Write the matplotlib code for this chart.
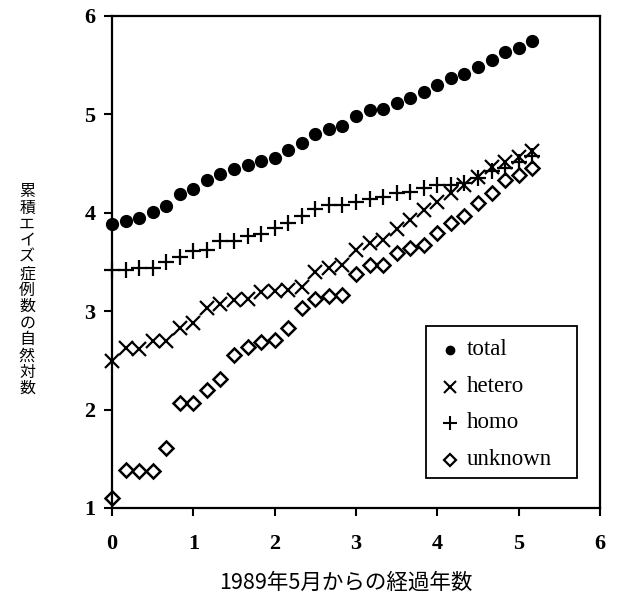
import numpy as np
import matplotlib
matplotlib.use("Agg")
import matplotlib.pyplot as plt
from matplotlib.lines import Line2D
from matplotlib.patches import Rectangle

# months elapsed since May 1989 (bi-monthly reports)
months = [0, 2, 4, 6, 8, 10, 12, 14, 16, 18, 20, 22, 24, 26, 28, 30,
          32, 34, 36, 38, 40, 42, 44, 46, 48, 50, 52, 54, 56, 58, 60, 62]

total = [3.89, 3.92, 3.95, 4.01, 4.07, 4.19, 4.24, 4.33, 4.39, 4.44, 4.49, 4.53,
         4.56, 4.64, 4.71, 4.80, 4.85, 4.88, 4.98, 5.04, 5.05, 5.12, 5.17, 5.23,
         5.30, 5.37, 5.41, 5.48, 5.55, 5.63, 5.67, 5.75]
hetero = [2.49, 2.63, 2.62, 2.70, 2.70, 2.83, 2.88, 3.03, 3.07, 3.11, 3.12, 3.19,
          3.20, 3.22, 3.25, 3.40, 3.44, 3.47, 3.62, 3.69, 3.72, 3.83, 3.93, 4.03,
          4.11, 4.20, 4.28, 4.36, 4.47, 4.52, 4.57, 4.63]
homo = [3.42, 3.42, 3.44, 3.44, 3.50, 3.55, 3.61, 3.62, 3.71, 3.71, 3.76, 3.78,
        3.85, 3.90, 3.97, 4.04, 4.08, 4.08, 4.11, 4.14, 4.16, 4.20, 4.21, 4.25,
        4.28, 4.28, 4.30, 4.35, 4.42, 4.46, 4.52, 4.58]
unknown = [1.10, 1.39, 1.38, 1.38, 1.61, 2.07, 2.07, 2.20, 2.31, 2.55, 2.64, 2.69,
           2.71, 2.83, 3.03, 3.12, 3.15, 3.16, 3.38, 3.47, 3.47, 3.59, 3.64, 3.67,
           3.79, 3.90, 3.97, 4.10, 4.20, 4.33, 4.38, 4.46]

series_names = ["total", "hetero", "homo", "unknown"]
xticks = [0, 1, 2, 3, 4, 5, 6]
yticks = [1, 2, 3, 4, 5, 6]
xlabel = "1989年5月からの経過年数"
ylabel = "累積エイズ症例数の自然対数"

x = np.array(months) / 12.0

fig = plt.figure(figsize=(6.17, 5.96), dpi=100)
ax = fig.add_axes([0.1815, 0.1477, 0.791, 0.8255])

ax.plot(x, total, linestyle="none", marker="o", markersize=8.5,
        color="black", clip_on=False, zorder=3)
ax.plot(x, hetero, linestyle="none", marker="x", markersize=10,
        markeredgewidth=1.6, color="black", clip_on=False, zorder=3)
ax.plot(x, homo, linestyle="none", marker="+", markersize=12,
        markeredgewidth=1.6, color="black", clip_on=False, zorder=3)
ax.plot(x, unknown, linestyle="none", marker="D", markersize=7.5,
        markerfacecolor="none", markeredgewidth=1.8, color="black",
        clip_on=False, zorder=3)

ax.set_xlim(0, 6)
ax.set_ylim(1, 6)
ax.set_xticks(xticks)
ax.set_yticks(yticks)
tick_font = dict(family="Liberation Serif", size=16, weight="bold")
ax.set_xticklabels([str(t) for t in xticks], fontdict=tick_font)
ax.set_yticklabels([str(t) for t in yticks], fontdict=tick_font)
ax.tick_params(direction="out", length=6, width=1.5)
ax.tick_params(axis="x", pad=13)
ax.tick_params(axis="y", pad=6)
for s in ax.spines.values():
    s.set_linewidth(1.6)

cjk = ["Noto Sans CJK JP", "DejaVu Sans"]
fig.text(0.56, 0.022, xlabel, ha="center", va="center",
         fontsize=15.5, family=cjk)
fig.text(0.044, 0.513, "\n".join(ylabel), ha="center", va="center",
         fontsize=11.5, linespacing=0.955, family=cjk)

# legend box drawn in figure coordinates
fig.patches.append(Rectangle((0.6904, 0.1980), 0.9352 - 0.6904, 0.4530 - 0.1980,
                             transform=fig.transFigure, fill=True,
                             facecolor="white", edgecolor="black",
                             linewidth=1.3, zorder=5))
leg_handles = [
    dict(marker="o", markersize=6, markeredgewidth=1.0, markerfacecolor="black"),
    dict(marker="x", markersize=8, markeredgewidth=1.5, markerfacecolor="black"),
    dict(marker="+", markersize=10, markeredgewidth=1.5, markerfacecolor="black"),
    dict(marker="D", markersize=6, markeredgewidth=1.6, markerfacecolor="none"),
]
leg_y = [0.4128, 0.3507, 0.2903, 0.2282]
for name, style, yy in zip(series_names, leg_handles, leg_y):
    fig.add_artist(Line2D([0.7293], [yy], transform=fig.transFigure,
                          linestyle="none", color="black", zorder=6, **style))
    fig.text(0.7569, yy, name, ha="left", va="center", fontsize=16.5,
             family="Liberation Serif", zorder=6)

fig.savefig("out.png", dpi=100)
